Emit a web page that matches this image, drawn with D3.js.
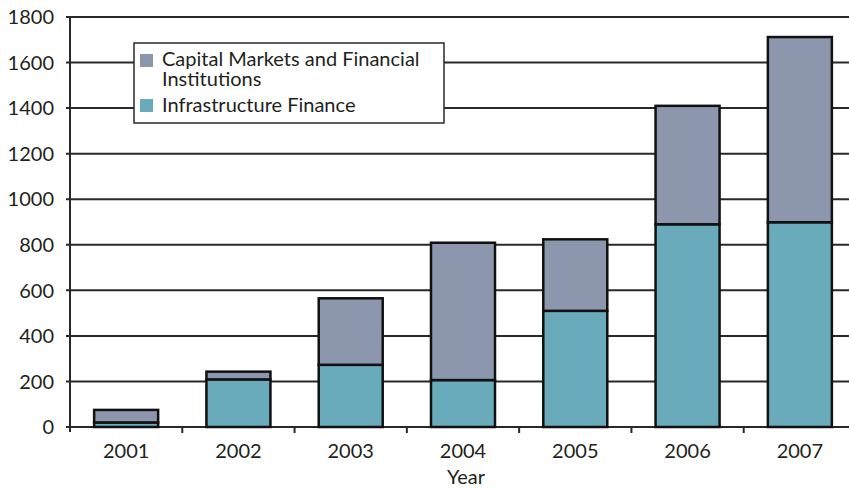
<!DOCTYPE html>
<html>
<head>
<meta charset="utf-8">
<script src="https://cdn.jsdelivr.net/npm/d3@7"></script>
<style>
  body { margin: 0; background: #fff; }
  text { font-family: Lato, "Open Sans", sans-serif; fill: #231f20; }
</style>
</head>
<body>
<div id="chart"></div>
<script>
// values
var years = ["2001", "2002", "2003", "2004", "2005", "2006", "2007"];
var infrastructure = [20, 209, 273, 206, 510, 890, 899];
var capitalMarkets = [55, 34, 292, 603, 314, 520, 813];
var yTicks = [0, 200, 400, 600, 800, 1000, 1200, 1400, 1600, 1800];
var seriesNames = ["Capital Markets and Financial Institutions", "Infrastructure Finance"];

var width = 849, height = 488;
var plotLeft = 70, plotRight = 856, plotTop = 17, plotBottom = 427;

var colors = { infra: "#69aabb", cap: "#8c97ae" };

var svg = d3.select("#chart").append("svg")
    .attr("width", width)
    .attr("height", height);

var x = d3.scaleBand()
    .domain(years)
    .range([plotLeft, plotRight])
    .paddingInner(0.43)
    .paddingOuter(0.215);

var y = d3.scaleLinear()
    .domain([0, 1800])
    .range([plotBottom, plotTop]);

// gridlines
svg.append("g")
    .selectAll("line")
    .data(yTicks)
    .enter()
    .append("line")
    .attr("x1", plotLeft - 4)
    .attr("x2", width)
    .attr("y1", function (d) { return y(d); })
    .attr("y2", function (d) { return y(d); })
    .attr("stroke", "#2b2727")
    .attr("stroke-width", 2);

// y labels
svg.append("g")
    .selectAll("text")
    .data(yTicks)
    .enter()
    .append("text")
    .attr("x", 54)
    .attr("y", function (d) { return y(d); })
    .attr("dy", "0.36em")
    .attr("text-anchor", "end")
    .style("font-size", "20px")
    .text(function (d) { return d; });

// stacked bars
var rows = years.map(function (yr, i) {
    return { year: yr, infra: infrastructure[i], cap: capitalMarkets[i] };
});
var stack = d3.stack().keys(["infra", "cap"]);
var layers = stack(rows);

svg.append("g")
    .selectAll("g")
    .data(layers)
    .enter()
    .append("g")
    .attr("fill", function (d) { return colors[d.key]; })
    .selectAll("rect")
    .data(function (d) { return d; })
    .enter()
    .append("rect")
    .attr("x", function (d) { return x(d.data.year); })
    .attr("width", x.bandwidth())
    .attr("y", function (d) { return y(d[1]); })
    .attr("height", function (d) { return y(d[0]) - y(d[1]); })
    .attr("stroke", "#111")
    .attr("stroke-width", 2.5);

// axes lines
svg.append("line")
    .attr("x1", plotLeft).attr("x2", plotLeft)
    .attr("y1", plotTop).attr("y2", plotBottom + 5)
    .attr("stroke", "#2b2727").attr("stroke-width", 2);

var step = x.step();
svg.append("g")
    .selectAll("line")
    .data(years.slice(1))
    .enter()
    .append("line")
    .attr("x1", function (d) { return x(d) - x.paddingInner() * step / 2; })
    .attr("x2", function (d) { return x(d) - x.paddingInner() * step / 2; })
    .attr("y1", plotBottom)
    .attr("y2", plotBottom + 6)
    .attr("stroke", "#2b2727").attr("stroke-width", 2);

// x labels
svg.append("g")
    .selectAll("text")
    .data(years)
    .enter()
    .append("text")
    .attr("x", function (d) { return x(d) + x.bandwidth() / 2; })
    .attr("y", 458)
    .attr("text-anchor", "middle")
    .style("font-size", "20px")
    .text(function (d) { return d; });

svg.append("text")
    .attr("x", 466)
    .attr("y", 484)
    .attr("text-anchor", "middle")
    .style("font-size", "20px")
    .text("Year");

// legend
var legend = svg.append("g");
legend.append("rect")
    .attr("x", 134).attr("y", 43)
    .attr("width", 310).attr("height", 80)
    .attr("fill", "#fff")
    .attr("stroke", "#2b2727")
    .attr("stroke-width", 1.5);

legend.append("rect")
    .attr("x", 140).attr("y", 54).attr("width", 13).attr("height", 13)
    .attr("fill", colors.cap);
legend.append("rect")
    .attr("x", 140).attr("y", 99).attr("width", 13).attr("height", 13)
    .attr("fill", colors.infra);

legend.append("text")
    .attr("x", 162).attr("y", 66)
    .style("font-size", "20px")
    .text("Capital Markets and Financial");
legend.append("text")
    .attr("x", 162).attr("y", 86)
    .style("font-size", "20px")
    .text("Institutions");
legend.append("text")
    .attr("x", 162).attr("y", 112)
    .style("font-size", "20px")
    .text(seriesNames[1]);
</script>
</body>
</html>
